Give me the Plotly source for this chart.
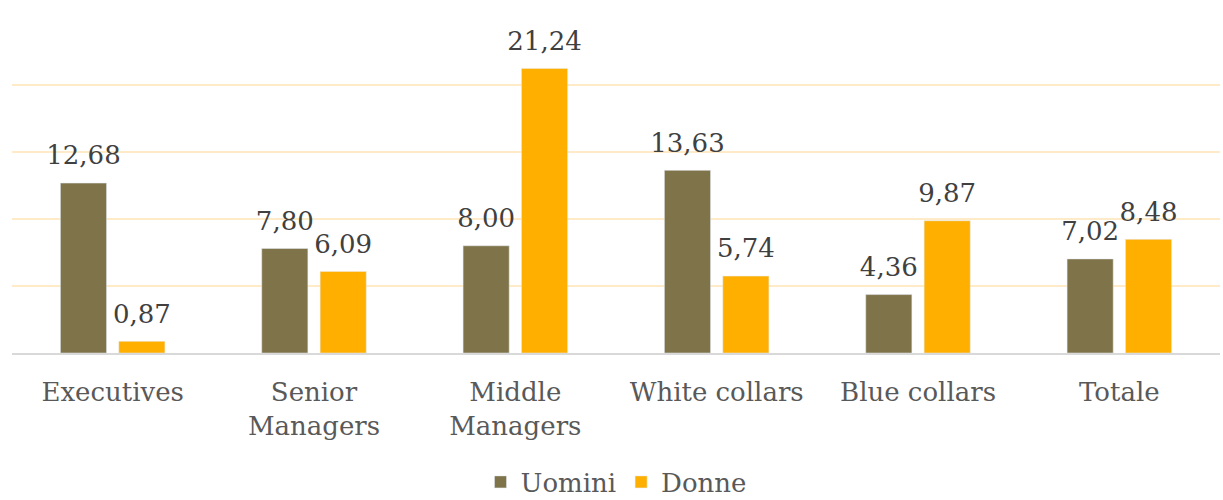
import plotly.graph_objects as go

categories = ["Executives", "Senior<br>Managers", "Middle<br>Managers", "White collars", "Blue collars", "Totale"]
uomini = [12.68, 7.80, 8.00, 13.63, 4.36, 7.02]
donne = [0.87, 6.09, 21.24, 5.74, 9.87, 8.48]

FONT = "DejaVu Serif"

fig = go.Figure()
series = [("Uomini", uomini, "#7F7349"), ("Donne", donne, "#FFAF00")]
for name, vals, color in series:
    fig.add_trace(go.Bar(name=name, x=categories, y=vals, marker_color=color,
                         offsetgroup=name, alignmentgroup="a"))
for name, vals, color in series:
    fig.add_trace(go.Scatter(x=categories, y=vals, mode="markers+text",
                             text=[f"{v:.2f}".replace(".", ",") for v in vals],
                             textposition="top center",
                             marker=dict(size=18, opacity=0),
                             textfont=dict(family=FONT, size=26, color="#404040"),
                             offsetgroup=name, alignmentgroup="a",
                             showlegend=False, hoverinfo="skip", cliponaxis=False))

fig.update_layout(
    width=1223, height=500,
    margin=dict(l=12, r=3, t=18, b=147, autoexpand=False),
    paper_bgcolor="white", plot_bgcolor="white",
    barmode="group", bargap=0.42, bargroupgap=0.21,
    scattermode="group", scattergap=0.42,
    font=dict(family=FONT, size=26, color="#595959"),
    showlegend=True,
    legend=dict(orientation="h", x=0.5, xanchor="center", y=-0.385, yanchor="middle",
                font=dict(family=FONT, size=26, color="#595959")),
)
fig.update_xaxes(showline=True, linecolor="#D9D9D9", linewidth=2, ticks="",
                 automargin=False, ticklabelstandoff=15,
                 tickfont=dict(family=FONT, size=26, color="#595959"))
fig.update_yaxes(range=[0, 25], dtick=5, showticklabels=False, gridcolor="#FFEBC8",
                 gridwidth=2, zeroline=False, automargin=False)

fig.write_html("out.html")
